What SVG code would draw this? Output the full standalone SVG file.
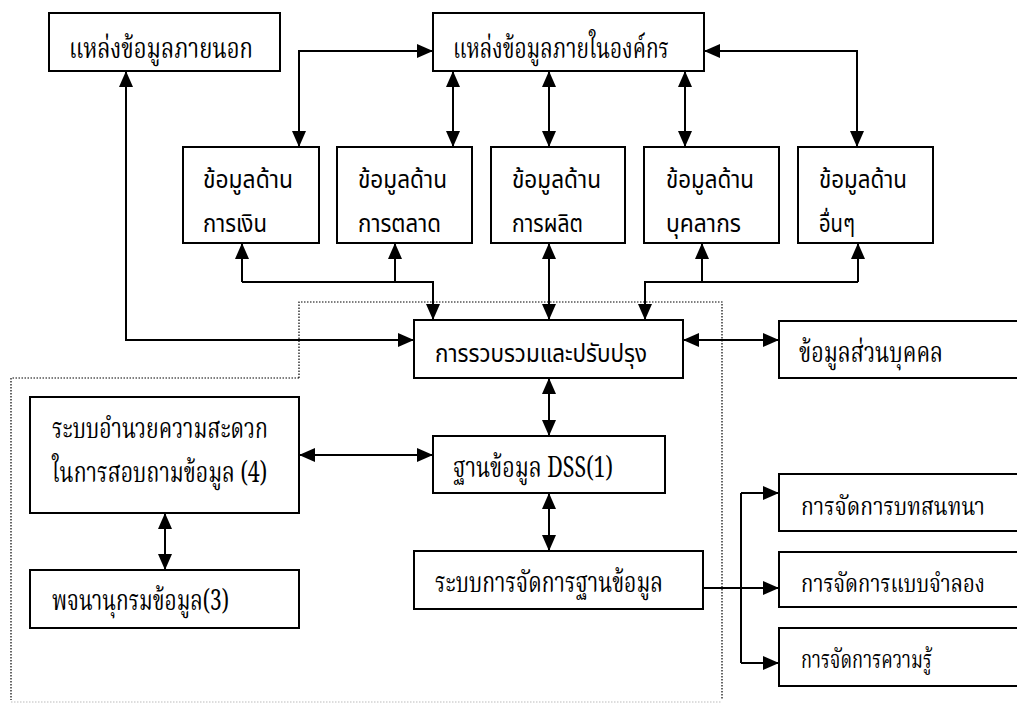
<svg xmlns="http://www.w3.org/2000/svg" width="1017" height="704" viewBox="0 0 1017 704">
<defs>
<marker id="ah" markerUnits="userSpaceOnUse" viewBox="0 0 16 14" markerWidth="16" markerHeight="14" refX="16" refY="7" orient="auto-start-reverse">
<path d="M0,0 L16,7 L0,14 z" fill="#000"/>
</marker>
<style>
rect{fill:#fff;stroke:#000;stroke-width:2}
.c path{fill:none;stroke:#000;stroke-width:2}
.b{marker-start:url(#ah);marker-end:url(#ah)}
.e{marker-end:url(#ah)}
.sf{font-family:"Noto Serif Thai","Noto Sans Thai","Liberation Serif",serif;font-size:29px;fill:#000}
.sr{font-size:24px}
.ss{font-family:"Noto Sans Thai","Noto Sans","Liberation Sans",sans-serif;font-size:24px;fill:#000}
.dot{fill:none;stroke:#000;stroke-width:1.2;stroke-dasharray:1.5 1.5}
</style>
</defs>
<rect x="0" y="0" width="1017" height="704" style="fill:#fff;stroke:none"/>
<path class="dot" d="M299,378 V302 H722 V700 M299,378 H11 V700"/>
<path class="dot" style="stroke:#bbb" d="M11,702 H722"/>

<g class="c">
<path class="b" d="M126,71 V340 H414"/>
<path class="b" d="M433,51 H299 V147"/>
<path class="b" d="M453,71 V147"/>
<path class="b" d="M549,71 V147"/>
<path class="b" d="M685,71 V147"/>
<path class="b" d="M704,51 H857 V147"/>
<path class="e" d="M242,282 V243"/>
<path class="e" d="M395,282 V243"/>
<path class="e" d="M242,282 H433 V320"/>
<path class="b" d="M549,243 V320"/>
<path class="e" d="M702,282 V243"/>
<path class="e" d="M858,282 V243"/>
<path class="e" d="M858,282 H645 V320"/>
<path class="b" d="M683,340 H779"/>
<path class="b" d="M549,378 V436"/>
<path class="b" d="M299,455 H433"/>
<path class="b" d="M165,513 V570"/>
<path class="b" d="M549,493 V551"/>
<path class="e" d="M704,588 H779"/>
<path d="M741,493 V663"/>
<path class="e" d="M741,493 H779"/>
<path class="e" d="M741,663 H779"/>
</g>

<g id="ext"><rect x="49" y="13" width="231" height="58"/><text class="sf" x="69" y="58" textLength="184" lengthAdjust="spacingAndGlyphs">แหล่งข้อมูลภายนอก</text></g>
<g id="int"><rect x="433" y="13" width="271" height="58"/><text class="sf" x="453" y="58" textLength="216" lengthAdjust="spacingAndGlyphs">แหล่งข้อมูลภายในองค์กร</text></g>

<g id="fin"><rect x="183" y="147" width="136" height="96"/><text class="ss" x="203" y="188" textLength="90" lengthAdjust="spacingAndGlyphs">ข้อมูลด้าน</text><text class="ss" x="203" y="232" textLength="64" lengthAdjust="spacingAndGlyphs">การเงิน</text></g>
<g id="mkt"><rect x="337" y="147" width="135" height="96"/><text class="ss" x="358" y="188" textLength="89" lengthAdjust="spacingAndGlyphs">ข้อมูลด้าน</text><text class="ss" x="358" y="232" textLength="83" lengthAdjust="spacingAndGlyphs">การตลาด</text></g>
<g id="prod"><rect x="491" y="147" width="134" height="96"/><text class="ss" x="512" y="188" textLength="89" lengthAdjust="spacingAndGlyphs">ข้อมูลด้าน</text><text class="ss" x="512" y="232" textLength="71" lengthAdjust="spacingAndGlyphs">การผลิต</text></g>
<g id="hr"><rect x="644" y="147" width="135" height="96"/><text class="ss" x="666" y="188" textLength="88" lengthAdjust="spacingAndGlyphs">ข้อมูลด้าน</text><text class="ss" x="666" y="232" textLength="75" lengthAdjust="spacingAndGlyphs">บุคลากร</text></g>
<g id="oth"><rect x="798" y="147" width="135" height="96"/><text class="ss" x="819" y="188" textLength="88" lengthAdjust="spacingAndGlyphs">ข้อมูลด้าน</text><text class="ss" x="819" y="232" textLength="36" lengthAdjust="spacingAndGlyphs">อื่นๆ</text></g>

<g id="collect"><rect x="414" y="320" width="269" height="58"/><text class="ss" x="435" y="362" textLength="212" lengthAdjust="spacingAndGlyphs">การรวบรวมและปรับปรุง</text></g>
<g id="personal"><rect x="779" y="321" width="241" height="57"/><text class="sf" x="799" y="362" textLength="144" lengthAdjust="spacingAndGlyphs">ข้อมูลส่วนบุคคล</text></g>

<g id="query"><rect x="30" y="397" width="269" height="116"/><text class="sf" x="52" y="438" textLength="216" lengthAdjust="spacingAndGlyphs">ระบบอำนวยความสะดวก</text><text class="sf" x="52" y="482" textLength="215" lengthAdjust="spacingAndGlyphs">ในการสอบถามข้อมูล (4)</text></g>
<g id="dict"><rect x="30" y="570" width="269" height="58"/><text class="sf" x="52" y="610" textLength="177" lengthAdjust="spacingAndGlyphs">พจนานุกรมข้อมูล(3)</text></g>

<g id="dss"><rect x="433" y="436" width="232" height="57"/><text class="sf" x="453" y="477" textLength="160" lengthAdjust="spacingAndGlyphs">ฐานข้อมูล DSS(1)</text></g>
<g id="dbms"><rect x="414" y="551" width="289" height="58"/><text class="sf" x="435" y="592" textLength="228" lengthAdjust="spacingAndGlyphs">ระบบการจัดการฐานข้อมูล</text></g>

<g id="dialog"><rect x="779" y="474" width="241" height="57"/><text class="sf sr" x="801" y="515" textLength="184" lengthAdjust="spacingAndGlyphs">การจัดการบทสนทนา</text></g>
<g id="model"><rect x="779" y="552" width="241" height="55"/><text class="sf sr" x="801" y="592" textLength="184" lengthAdjust="spacingAndGlyphs">การจัดการแบบจำลอง</text></g>
<g id="know"><rect x="779" y="628" width="241" height="58"/><text class="sf sr" x="801" y="668" textLength="131" lengthAdjust="spacingAndGlyphs">การจัดการความรู้</text></g>
</svg>
